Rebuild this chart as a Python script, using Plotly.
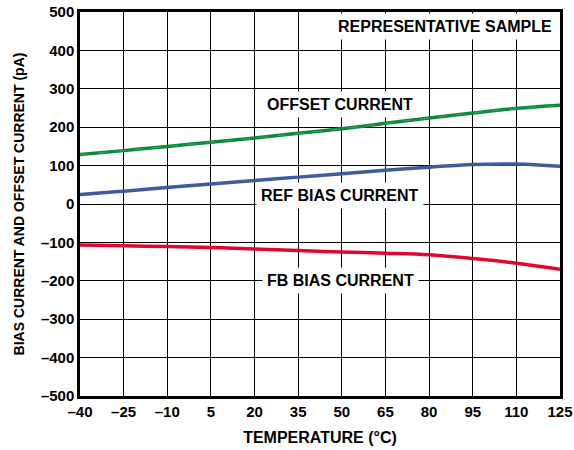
import plotly.graph_objects as go

temperature = [-40, -25, -10, 5, 20, 35, 50, 65, 80, 95, 110, 125]
offset_current = [129, 139, 150, 161, 172, 184, 196, 210, 224, 237, 249, 257]
ref_bias_current = [25, 33, 43, 52, 61, 70, 79, 88, 96, 103, 104, 98]
fb_bias_current = [-107, -109, -111, -113, -117, -121, -125, -128, -132, -142, -154, -170]

x_ticks = [-40, -25, -10, 5, 20, 35, 50, 65, 80, 95, 110, 125]
y_ticks = [-500, -400, -300, -200, -100, 0, 100, 200, 300, 400, 500]

FONT = "Liberation Sans, Arial, sans-serif"

fig = go.Figure()
fig.add_trace(go.Scatter(x=temperature, y=offset_current, mode="lines",
                         line=dict(color="#0b8a3e", width=3.5, shape="spline"), showlegend=False))
fig.add_trace(go.Scatter(x=temperature, y=offset_current, mode="lines",
                         line=dict(color="#2e9e5a", width=1.2, dash="dash", shape="spline"), showlegend=False))
fig.add_trace(go.Scatter(x=temperature, y=ref_bias_current, mode="lines",
                         line=dict(color="#3d5c9c", width=3.5, shape="spline"), showlegend=False))
fig.add_trace(go.Scatter(x=temperature, y=fb_bias_current, mode="lines",
                         line=dict(color="#e0062f", width=3.5, shape="spline"), showlegend=False))

labels = [("REPRESENTATIVE SAMPLE", 85.5, 463), ("OFFSET CURRENT", 49.5, 260),
          ("REF BIAS CURRENT", 49.5, 23), ("FB BIAS CURRENT", 49.5, -198)]
for text, x, y in labels:
    fig.add_annotation(x=x, y=y, text="<b>%s</b>" % text, showarrow=False,
                       font=dict(family=FONT, size=16, color="black"),
                       bgcolor="white", borderpad=4)

axis_common = dict(showgrid=True, gridcolor="black", gridwidth=1.3, zeroline=False,
                   showline=True, linecolor="black", linewidth=2.5, mirror=True,
                   ticks="", automargin=False, tickfont=dict(family=FONT, size=15, color="black"))

def fmt(v):
    return "<b>%s</b>" % str(v).replace("-", "\u2013")

fig.update_xaxes(range=[-40, 125], tickvals=x_ticks,
                 ticktext=[fmt(v) for v in x_ticks],
                 title=dict(text="<b>TEMPERATURE (°C)</b>", font=dict(family=FONT, size=16, color="black"), standoff=14),
                 **axis_common)
fig.update_yaxes(range=[-500, 500], tickvals=y_ticks,
                 ticktext=[fmt(v) for v in y_ticks],
                 title=dict(text="<b>BIAS CURRENT AND OFFSET CURRENT (pA)</b>", font=dict(family=FONT, size=14, color="black"), standoff=13),
                 **axis_common)

fig.update_layout(width=574, height=450, margin=dict(l=80, r=14, t=12, b=54),
                  plot_bgcolor="white", paper_bgcolor="white", showlegend=False)

fig.write_html("out.html", config={"displayModeBar": False},
               post_script="document.body.style.margin='0';")
